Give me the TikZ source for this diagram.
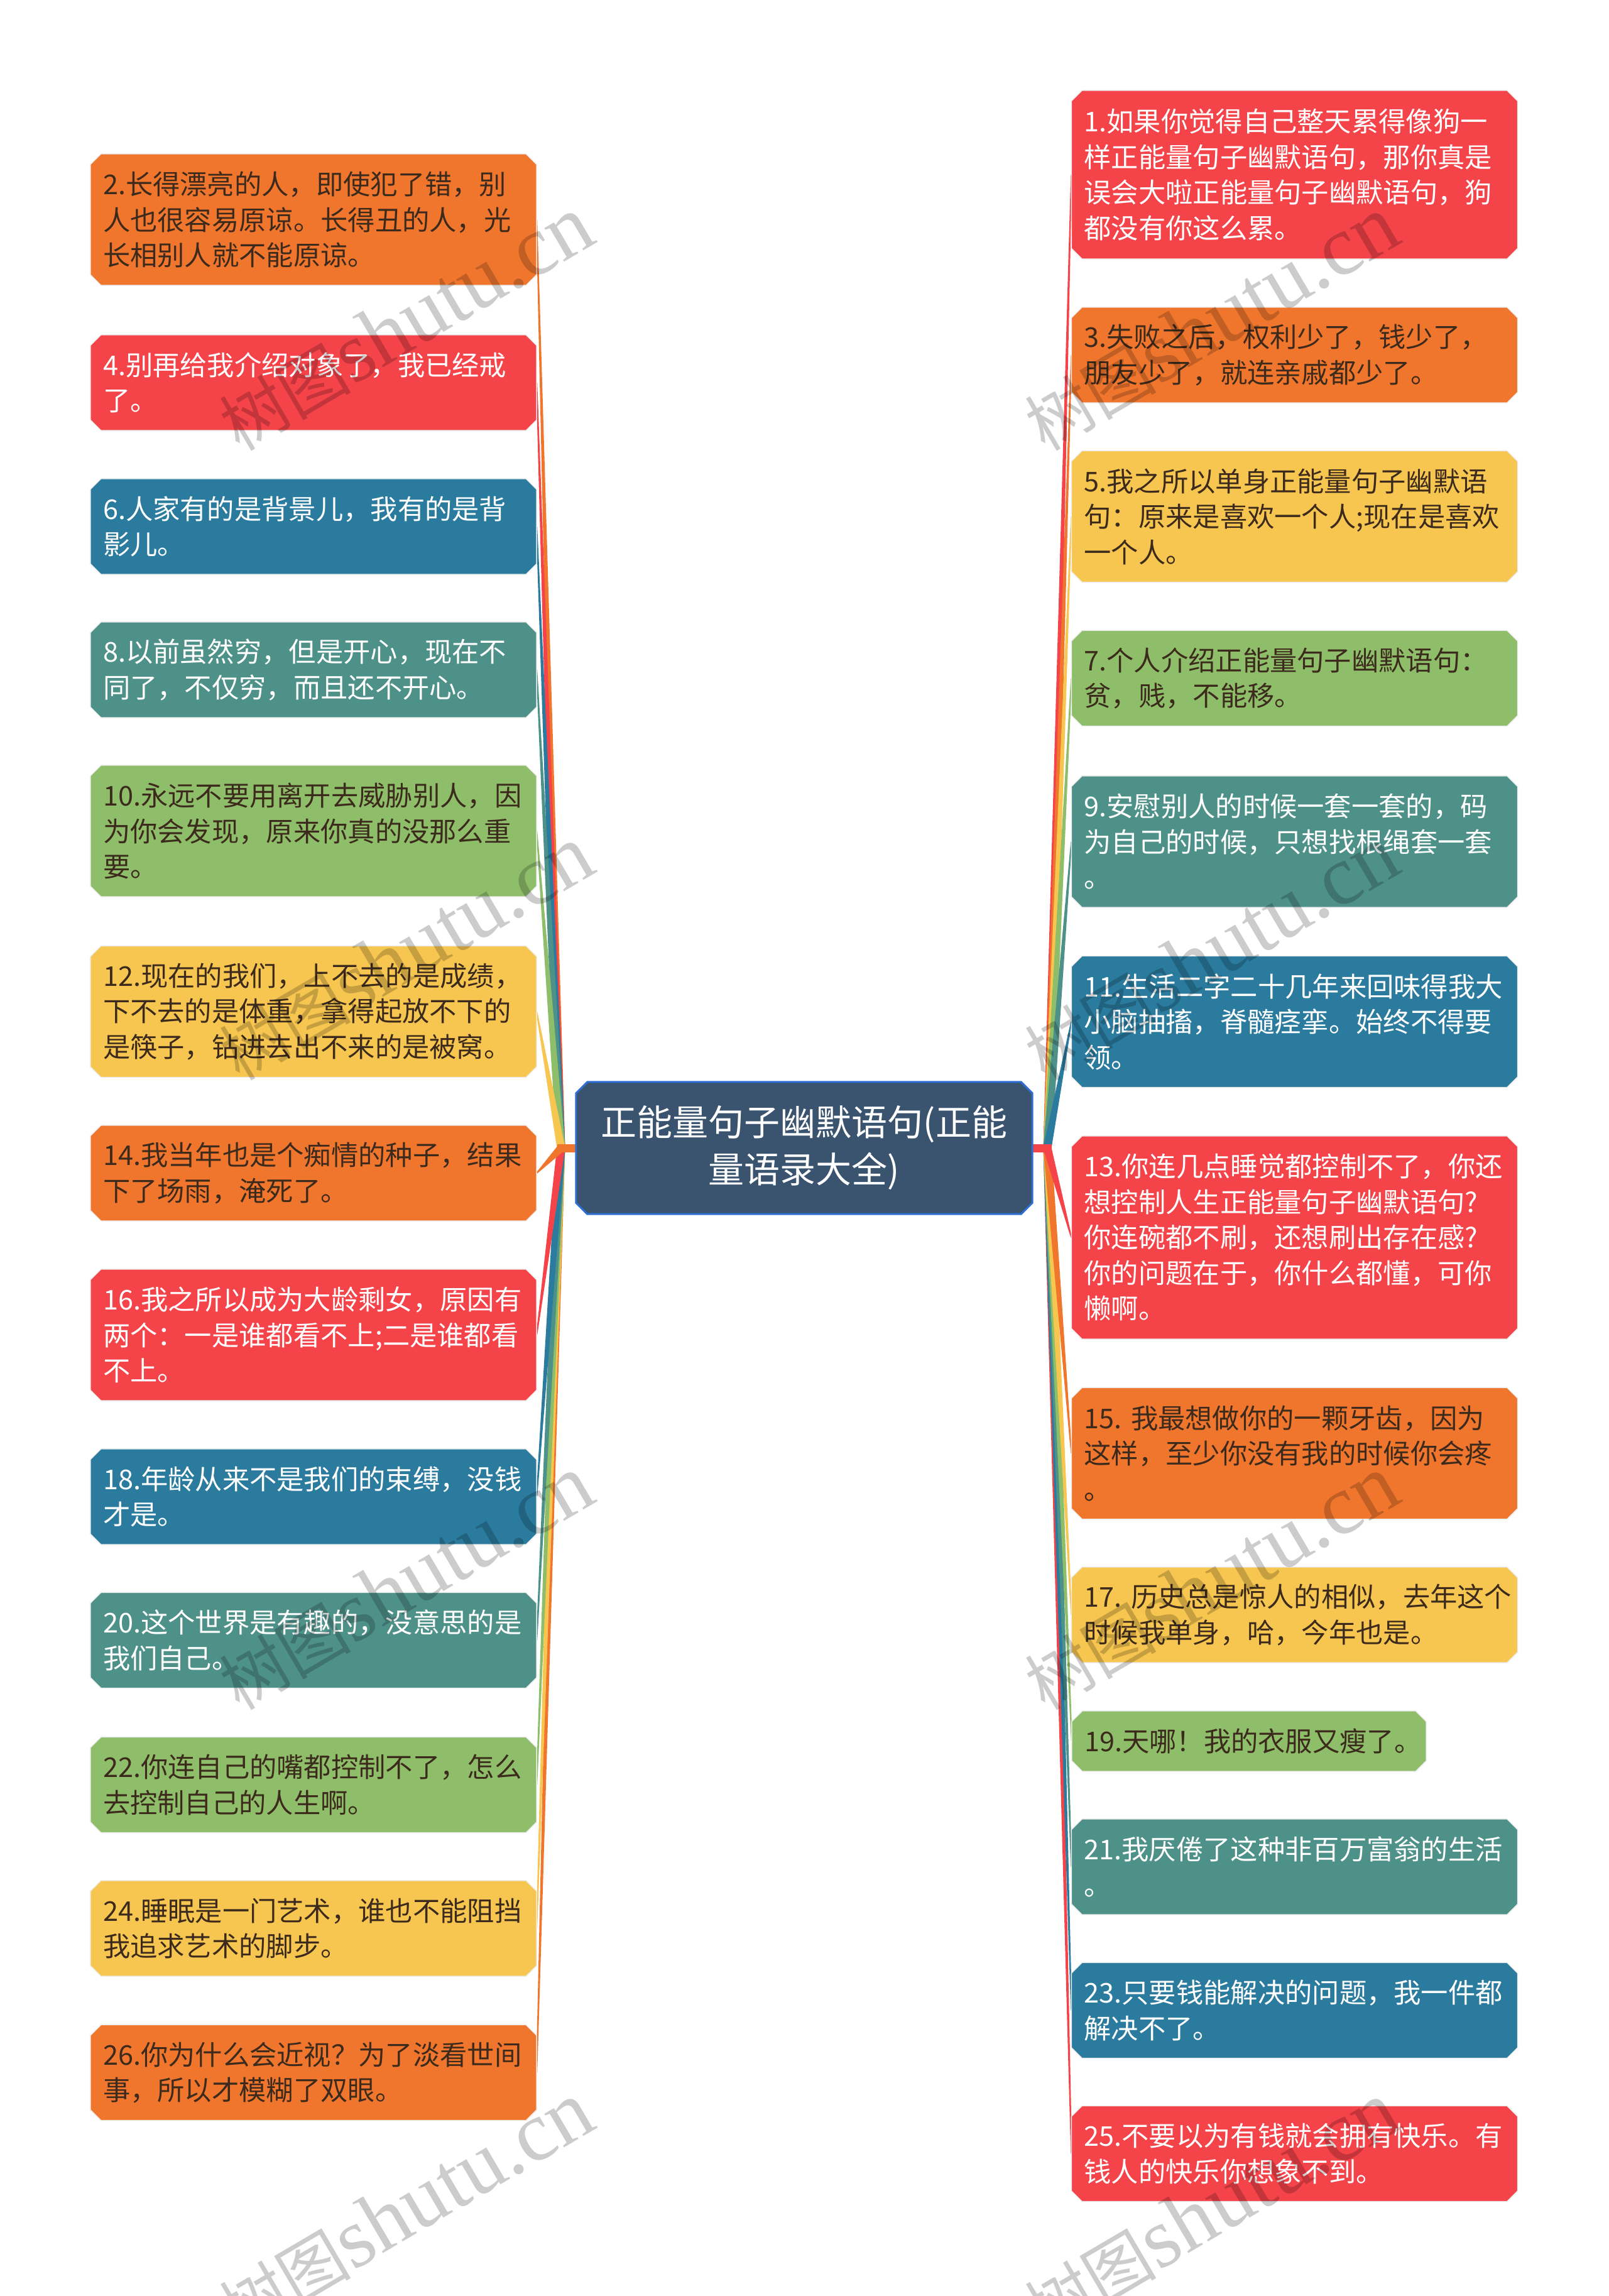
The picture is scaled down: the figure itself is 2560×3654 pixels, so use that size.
\documentclass[tikz,border=0pt]{standalone}
\usepackage{fontspec}
\setmainfont{Noto Sans CJK SC}
\newfontfamily\wmlatin{Liberation Serif}
\usetikzlibrary{calc}
\definecolor{cRed}{HTML}{F44349}
\definecolor{cOrange}{HTML}{F1762D}
\definecolor{cYellow}{HTML}{F7C650}
\definecolor{cGreen}{HTML}{8EBE6A}
\definecolor{cTeal}{HTML}{4E9189}
\definecolor{cBlue}{HTML}{2A7B9E}
\definecolor{cCenter}{HTML}{3A5470}
\definecolor{cCenterBorder}{HTML}{2F6FD3}
\definecolor{cDark}{HTML}{3C2A1C}
\pgfdeclarelayer{paper}
\pgfdeclarelayer{wires}
\pgfdeclarelayer{plates}
\pgfdeclarelayer{marks}
\pgfsetlayers{paper,wires,plates,main,marks}
\tikzset{
  txtbox/.style={shape=rectangle, font=\fontsize{43.3pt}{56.5pt}\selectfont,
    text width=670pt, inner xsep=20pt, inner ysep=0pt, minimum width=710pt, align=left},
  darkink/.style={txtbox, text=cDark},
  whiteink/.style={txtbox, text=white},
  wmark/.style={rotate=30.4, text=black, opacity=0.2, inner sep=0pt},
}
\newcommand\wmtext{{\fontsize{105pt}{105pt}\selectfont 树图}{\wmlatin\fontsize{135pt}{135pt}\selectfont shutu.cn}}
\begin{document}
\begin{tikzpicture}[x=1pt,y=-1pt]
\begin{pgfonlayer}{paper}
\fill[white] (0,0) rectangle (2560,3654);
\end{pgfonlayer}
\useasboundingbox (0,0) rectangle (2560,3654);

% center
\node[shape=rectangle, font=\fontsize{57pt}{75pt}\selectfont, text=white, align=center,
  text width=690pt, minimum width=726pt, minimum height=210pt, inner xsep=18pt, inner ysep=0pt]
  (center) at (1280,1827) {正能量句子幽默语句(正能\\量语录大全)};

% left column
\node[darkink, minimum height=209pt] (l2) at (499,349.5) {2.长得漂亮的人，即使犯了错，别\\人也很容易原谅。长得丑的人，光\\长相别人就不能原谅。};
\node[whiteink, minimum height=152pt] (l4) at (499,609) {4.别再给我介绍对象了，我已经戒\\了。};
\node[whiteink, minimum height=152pt] (l6) at (499,838) {6.人家有的是背景儿，我有的是背\\影儿。};
\node[whiteink, minimum height=152pt] (l8) at (499,1066) {8.以前虽然穷，但是开心，现在不\\同了，不仅穷，而且还不开心。};
\node[darkink, minimum height=209pt] (l10) at (499,1322.5) {10.永远不要用离开去威胁别人，因\\为你会发现，原来你真的没那么重\\要。};
\node[darkink, minimum height=209pt] (l12) at (499,1610) {12.现在的我们，上不去的是成绩，\\下不去的是体重，拿得起放不下的\\是筷子，钻进去出不来的是被窝。};
\node[darkink, minimum height=152pt] (l14) at (499,1867) {14.我当年也是个痴情的种子，结果\\下了场雨，淹死了。};
\node[whiteink, minimum height=209pt] (l16) at (499,2124.5) {16.我之所以成为大龄剩女，原因有\\两个：一是谁都看不上;二是谁都看\\不上。};
\node[whiteink, minimum height=152pt] (l18) at (499,2382) {18.年龄从来不是我们的束缚，没钱\\才是。};
\node[whiteink, minimum height=152pt] (l20) at (499,2610.5) {20.这个世界是有趣的，没意思的是\\我们自己。};
\node[darkink, minimum height=152pt] (l22) at (499,2840.5) {22.你连自己的嘴都控制不了，怎么\\去控制自己的人生啊。};
\node[darkink, minimum height=152pt] (l24) at (499,3069) {24.睡眠是一门艺术，谁也不能阻挡\\我追求艺术的脚步。};
\node[darkink, minimum height=152pt] (l26) at (499,3298.5) {26.你为什么会近视？为了淡看世间\\事，所以才模糊了双眼。};

% right column
\node[whiteink, minimum height=268pt] (r1) at (2060.5,278) {1.如果你觉得自己整天累得像狗一\\样正能量句子幽默语句，那你真是\\误会大啦正能量句子幽默语句，狗\\都没有你这么累。};
\node[darkink, minimum height=152pt] (r3) at (2060.5,565) {3.失败之后，权利少了，钱少了，\\朋友少了，就连亲戚都少了。};
\node[darkink, minimum height=209pt] (r5) at (2060.5,822) {5.我之所以单身正能量句子幽默语\\句：原来是喜欢一个人;现在是喜欢\\一个人。};
\node[darkink, minimum height=152pt] (r7) at (2060.5,1079.5) {7.个人介绍正能量句子幽默语句：\\贫，贱，不能移。};
\node[whiteink, minimum height=209pt] (r9) at (2060.5,1339.5) {9.安慰别人的时候一套一套的，码\\为自己的时候，只想找根绳套一套\\。};
\node[whiteink, minimum height=209pt] (r11) at (2060.5,1626) {11.生活二字二十几年来回味得我大\\小脑抽搐，脊髓痉挛。始终不得要\\领。};
\node[whiteink, minimum height=323pt] (r13) at (2060.5,1969.5) {13.你连几点睡觉都控制不了，你还\\想控制人生正能量句子幽默语句?\\你连碗都不刷，还想刷出存在感?\\你的问题在于，你什么都懂，可你\\懒啊。};
\node[darkink, minimum height=209pt] (r15) at (2060.5,2313) {15.~我最想做你的一颗牙齿，因为\\这样，至少你没有我的时候你会疼\\。};
\node[darkink, minimum height=152pt] (r17) at (2060.5,2570) {17.~历史总是惊人的相似，去年这个\\时候我单身，哈，今年也是。};
\node[darkink, minimum height=96pt, text width=524pt, minimum width=564pt] (r19) at (1988,2771) {19.天哪！我的衣服又瘦了。};
\node[whiteink, minimum height=152pt] (r21) at (2060.5,2971) {21.我厌倦了这种非百万富翁的生活\\。};
\node[whiteink, minimum height=152pt] (r23) at (2060.5,3199.5) {23.只要钱能解决的问题，我一件都\\解决不了。};
\node[whiteink, minimum height=152pt] (r25) at (2060.5,3427.5) {25.不要以为有钱就会拥有快乐。有\\钱人的快乐你想象不到。};

\coordinate (hubL) at (893,1827);
\coordinate (hubR) at (1667,1827);

% plates
\begin{pgfonlayer}{plates}
\foreach \n/\c in {l2/cOrange,l4/cRed,l6/cBlue,l8/cTeal,l10/cGreen,l12/cYellow,l14/cOrange,l16/cRed,l18/cBlue,l20/cTeal,l22/cGreen,l24/cYellow,l26/cOrange,
  r1/cRed,r3/cOrange,r5/cYellow,r7/cGreen,r9/cTeal,r11/cBlue,r13/cRed,r15/cOrange,r17/cYellow,r19/cGreen,r21/cTeal,r23/cBlue,r25/cRed}{
  \fill[\c, draw=black!7, line width=1.5pt]
    ($(\n.north west)+(17,0)$) -- ($(\n.north east)+(-17,0)$) -- ($(\n.north east)+(0,17)$) --
    ($(\n.south east)+(0,-17)$) -- ($(\n.south east)+(-17,0)$) -- ($(\n.south west)+(17,0)$) --
    ($(\n.south west)+(0,-17)$) -- ($(\n.north west)+(0,17)$) -- cycle;
}
\fill[cCenter, draw=cCenterBorder, line width=3pt]
    ($(center.north west)+(18,0)$) -- ($(center.north east)+(-18,0)$) -- ($(center.north east)+(0,18)$) --
    ($(center.south east)+(0,-18)$) -- ($(center.south east)+(-18,0)$) -- ($(center.south west)+(18,0)$) --
    ($(center.south west)+(0,-18)$) -- ($(center.north west)+(0,18)$) -- cycle;
\end{pgfonlayer}

% connectors
\begin{pgfonlayer}{wires}
\foreach \n/\c in {l2/cOrange,l4/cRed,l6/cBlue,l8/cTeal,l10/cGreen,l12/cYellow,l26/cOrange,l24/cYellow,l22/cGreen,l20/cTeal,l18/cBlue,l16/cRed,l14/cOrange}{
  \fill[\c] ($(hubL)!6.5pt!90:(\n.east)$) -- ($(hubL)!6.5pt!-90:(\n.east)$) --
    ($(\n.east)!1pt!90:(hubL)$) -- ($(\n.east)!1pt!-90:(hubL)$) -- cycle;
}
\foreach \n/\c in {r1/cRed,r3/cOrange,r5/cYellow,r7/cGreen,r9/cTeal,r11/cBlue,r25/cRed,r23/cBlue,r21/cTeal,r19/cGreen,r17/cYellow,r15/cOrange,r13/cRed}{
  \fill[\c] ($(hubR)!6.5pt!90:(\n.west)$) -- ($(hubR)!6.5pt!-90:(\n.west)$) --
    ($(\n.west)!1pt!90:(hubR)$) -- ($(\n.west)!1pt!-90:(hubR)$) -- cycle;
}
\draw[cOrange, line width=13pt, line cap=rect] (hubL) -- (center.west);
\draw[cRed, line width=13pt, line cap=rect] (hubR) -- (center.east);
\end{pgfonlayer}

% watermarks
\begin{pgfonlayer}{marks}
\node[wmark] (wm1) at (646,515) {\wmtext};
\node[wmark] (wm2) at (1928,515) {\wmtext};
\node[wmark] (wm3) at (646,1517) {\wmtext};
\node[wmark] (wm4) at (1928,1517) {\wmtext};
\node[wmark] (wm5) at (646,2519) {\wmtext};
\node[wmark] (wm6) at (1928,2519) {\wmtext};
\node[wmark] (wm7) at (646,3516) {\wmtext};
\node[wmark] (wm8) at (1928,3516) {\wmtext};
\end{pgfonlayer}
\end{tikzpicture}
\end{document}
